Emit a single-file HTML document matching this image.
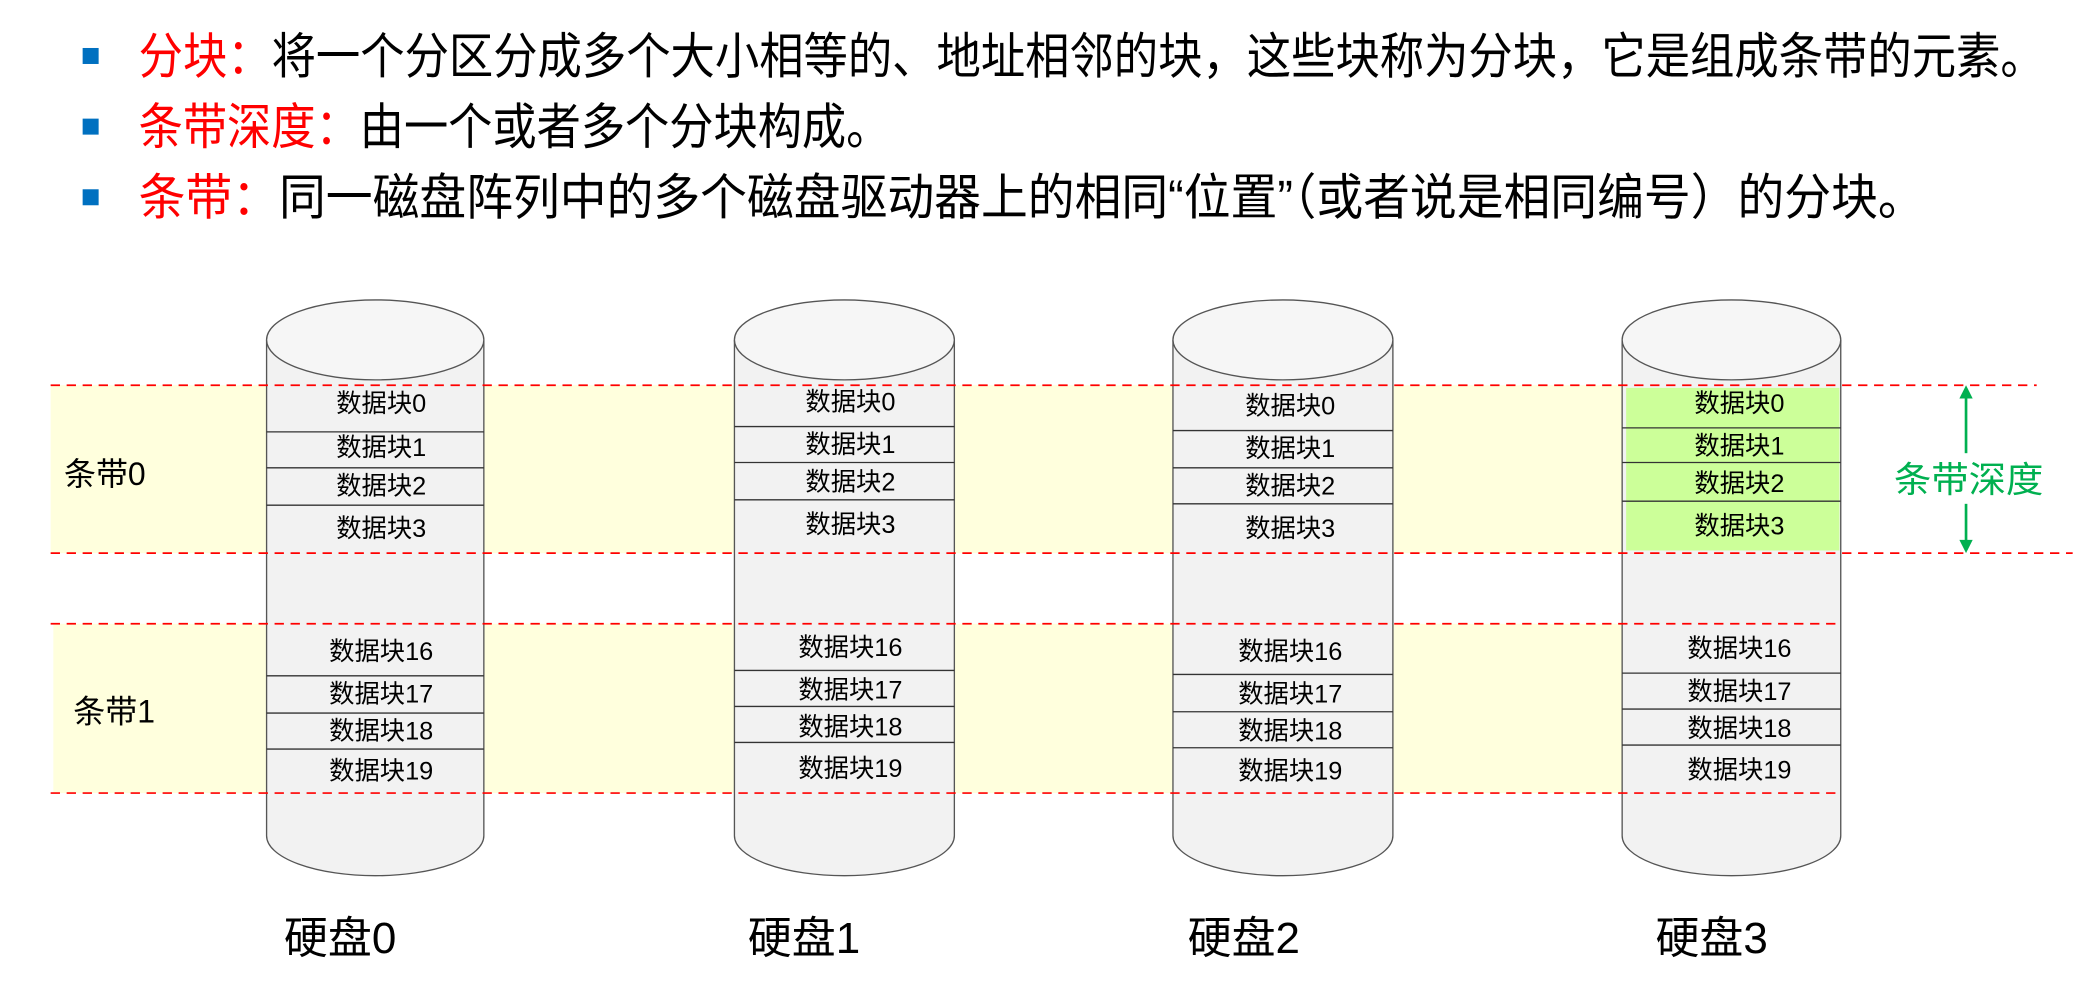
<!DOCTYPE html>
<html><head><meta charset="utf-8"><style>
html,body{margin:0;padding:0;background:#fff;}
svg{display:block;}
text{font-family:"Liberation Sans","Noto Sans CJK SC",sans-serif;}
</style></head><body>
<svg width="2090" height="999" viewBox="0 0 1568 749.5" preserveAspectRatio="none" xmlns="http://www.w3.org/2000/svg">
<rect x="0" y="0" width="1568" height="750" fill="#fff"/>
<!-- bullets -->
<rect x="62" y="36" width="12" height="12" fill="#0070c0"/>
<rect x="62" y="89" width="12" height="12" fill="#0070c0"/>
<rect x="62" y="142" width="12" height="12" fill="#0070c0"/>
<g font-size="37">
<text x="104" y="55" textLength="1430" lengthAdjust="spacingAndGlyphs"><tspan fill="#ff0000">分块：</tspan><tspan fill="#000">将一个分区分成多个大小相等的、地址相邻的块，这些块称为分块，它是组成条带的元素。</tspan></text>
<text x="104" y="108" textLength="564" lengthAdjust="spacingAndGlyphs"><tspan fill="#ff0000">条带深度：</tspan><tspan fill="#000">由一个或者多个分块构成。</tspan></text>
<text x="104" y="161" textLength="1340" lengthAdjust="spacingAndGlyphs"><tspan fill="#ff0000">条带：</tspan><tspan fill="#000">同一磁盘阵列中的多个磁盘驱动器上的相同“位置”（或者说是相同编号）的分块。</tspan></text>
</g>
<!-- yellow bands -->
<rect x="38" y="289" width="1180" height="126" fill="#ffffdd"/>
<rect x="40" y="468" width="1178" height="127" fill="#ffffdd"/>

<!-- cylinders -->
<g stroke="#555" stroke-width="1">
<path d="M200,255 L200,627 A81.5,30 0 0 0 363,627 L363,255" fill="#f2f2f2"/>
<ellipse cx="281.5" cy="255" rx="81.5" ry="30" fill="#f6f6f6"/>
<path d="M551,255 L551,627 A82.5,30 0 0 0 716,627 L716,255" fill="#f2f2f2"/>
<ellipse cx="633.5" cy="255" rx="82.5" ry="30" fill="#f6f6f6"/>
<path d="M880,255 L880,627 A82.5,30 0 0 0 1045,627 L1045,255" fill="#f2f2f2"/>
<ellipse cx="962.5" cy="255" rx="82.5" ry="30" fill="#f6f6f6"/>
<path d="M1217,255 L1217,627 A82,30 0 0 0 1381,627 L1381,255" fill="#f2f2f2"/>
<ellipse cx="1299" cy="255" rx="82" ry="30" fill="#f6f6f6"/>
</g>
<rect x="1220" y="291" width="160" height="122" fill="#ccff99"/>

<!-- row lines -->
<g stroke="#333" stroke-width="1">
<line x1="200" y1="324" x2="363" y2="324"/><line x1="200" y1="351" x2="363" y2="351"/><line x1="200" y1="379" x2="363" y2="379"/>
<line x1="200" y1="507" x2="363" y2="507"/><line x1="200" y1="535" x2="363" y2="535"/><line x1="200" y1="562" x2="363" y2="562"/>
<line x1="551" y1="320" x2="716" y2="320"/><line x1="551" y1="347" x2="716" y2="347"/><line x1="551" y1="375" x2="716" y2="375"/>
<line x1="551" y1="503" x2="716" y2="503"/><line x1="551" y1="530" x2="716" y2="530"/><line x1="551" y1="557" x2="716" y2="557"/>
<line x1="880" y1="323" x2="1045" y2="323"/><line x1="880" y1="351" x2="1045" y2="351"/><line x1="880" y1="378" x2="1045" y2="378"/>
<line x1="880" y1="506" x2="1045" y2="506"/><line x1="880" y1="534" x2="1045" y2="534"/><line x1="880" y1="561" x2="1045" y2="561"/>
<line x1="1217" y1="321" x2="1381" y2="321"/><line x1="1217" y1="347" x2="1381" y2="347"/><line x1="1217" y1="376" x2="1381" y2="376"/>
<line x1="1217" y1="505" x2="1381" y2="505"/><line x1="1217" y1="532" x2="1381" y2="532"/><line x1="1217" y1="559" x2="1381" y2="559"/>
</g>

<!-- dashed lines -->
<g stroke="#ff0000" stroke-width="1.3" stroke-dasharray="7,5">
<line x1="38" y1="289" x2="1528" y2="289"/>
<line x1="38" y1="415" x2="1555" y2="415"/>
<line x1="38" y1="468" x2="1378" y2="468"/>
<line x1="38" y1="595" x2="1378" y2="595"/>
</g>

<!-- block labels -->
<g font-size="19" fill="#000" text-anchor="middle">
<text x="286" y="309">数据块0</text><text x="286" y="342">数据块1</text><text x="286" y="371">数据块2</text><text x="286" y="403">数据块3</text>
<text x="286" y="495">数据块16</text><text x="286" y="527">数据块17</text><text x="286" y="555">数据块18</text><text x="286" y="585">数据块19</text>
<text x="638" y="308">数据块0</text><text x="638" y="340">数据块1</text><text x="638" y="368">数据块2</text><text x="638" y="400">数据块3</text>
<text x="638" y="492">数据块16</text><text x="638" y="524">数据块17</text><text x="638" y="552">数据块18</text><text x="638" y="583">数据块19</text>
<text x="968" y="311">数据块0</text><text x="968" y="343">数据块1</text><text x="968" y="371">数据块2</text><text x="968" y="403">数据块3</text>
<text x="968" y="495">数据块16</text><text x="968" y="527">数据块17</text><text x="968" y="555">数据块18</text><text x="968" y="585">数据块19</text>
<text x="1305" y="309">数据块0</text><text x="1305" y="341">数据块1</text><text x="1305" y="369">数据块2</text><text x="1305" y="401">数据块3</text>
<text x="1305" y="493">数据块16</text><text x="1305" y="525">数据块17</text><text x="1305" y="553">数据块18</text><text x="1305" y="584">数据块19</text>
</g>

<text x="48" y="364" font-size="24" fill="#000">条带0</text>
<text x="55" y="542" font-size="24" fill="#000">条带1</text>

<!-- stripe depth arrow -->
<g stroke="#00b050" stroke-width="2" fill="#00b050">
<line x1="1475" y1="297" x2="1475" y2="340"/>
<line x1="1475" y1="378" x2="1475" y2="407"/>
</g>
<polygon points="1475,289 1470,299 1480,299" fill="#00b050"/>
<polygon points="1475,415 1470,405 1480,405" fill="#00b050"/>
<text x="1421" y="369" font-size="27" fill="#00b050" textLength="112" lengthAdjust="spacingAndGlyphs">条带深度</text>

<!-- disk labels -->
<g font-size="33" fill="#000">
<text x="213" y="715">硬盘0</text>
<text x="561" y="715">硬盘1</text>
<text x="891" y="715">硬盘2</text>
<text x="1242" y="715">硬盘3</text>
</g>
</svg>
</body></html>
